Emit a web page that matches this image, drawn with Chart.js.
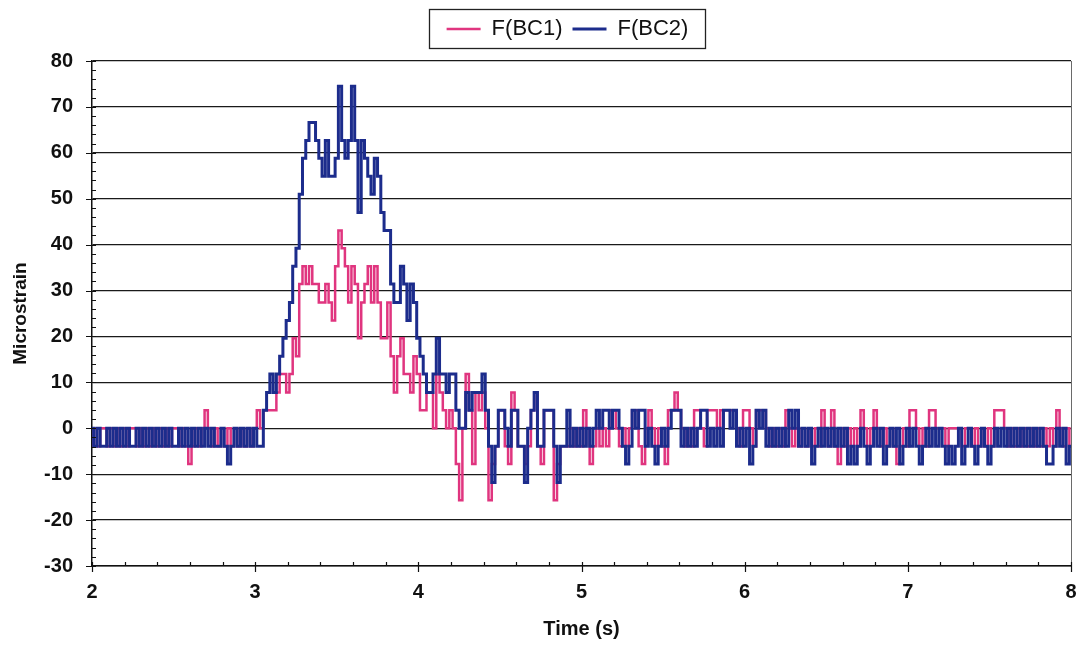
<!DOCTYPE html>
<html>
<head>
<meta charset="utf-8">
<title>F(BC1) / F(BC2)</title>
<script src="https://cdn.jsdelivr.net/npm/chart.js@4.4.1/dist/chart.umd.min.js"></script>
<style>
  html, body { margin: 0; padding: 0; background: #fff; }
  #wrap { width: 1082px; height: 645px; }
</style>
</head>
<body>
<div id="wrap"><canvas id="strainChart"></canvas></div>
<script>
// recorder clock: first sample and sample interval (s)
const startTime = 2.0;
const sampleStep = 0.02;

const seriesNames = ['F(BC1)', 'F(BC2)'];

// F(BC1) microstrain, one value per sample (10 samples = 0.2 s per row)
const bc1 = [
  -3.9, 0, -3.9, 0, 0, -3.9, 0, -3.9, 0, -3.9,
  0, -3.9, 0, 0, -3.9, 0, -3.9, 0, -3.9, 0,
  -3.9, 0, -3.9, 0, -3.9, 0, 0, -3.9, 0, -3.9,
  -7.8, -3.9, 0, -3.9, 0, 3.9, 0, -3.9, 0, -3.9,
  0, -3.9, 0, -3.9, 0, -3.9, 0, -3.9, 0, -3.9,
  0, 3.9, 0, 3.9, 3.9, 3.9, 3.9, 7.8, 11.8, 11.8,
  7.8, 11.8, 19.6, 15.7, 31.4, 35.3, 31.4, 35.3, 31.4, 31.4,
  27.4, 27.4, 31.4, 27.4, 23.5, 35.3, 43.1, 39.2, 35.3, 27.4,
  35.3, 31.4, 19.6, 27.4, 31.4, 35.3, 27.4, 35.3, 27.4, 19.6,
  19.6, 27.4, 15.7, 7.8, 15.7, 19.6, 11.8, 11.8, 7.8, 15.7,
  11.8, 3.9, 3.9, 7.8, 7.8, 0, 11.8, 7.8, 3.9, 0,
  3.9, 0, -7.8, -15.7, 0, 11.8, 3.9, -7.8, 7.8, 3.9,
  7.8, 0, -15.7, -7.8, -3.9, 3.9, 3.9, -3.9, -7.8, 7.8,
  3.9, -3.9, -3.9, -7.8, -3.9, 3.9, 7.8, -3.9, -7.8, 3.9,
  3.9, 3.9, -15.7, -7.8, -3.9, -3.9, -3.9, 0, -3.9, 0,
  -3.9, 3.9, 0, -7.8, -3.9, 0, -3.9, 0, -3.9, 3.9,
  3.9, 0, -3.9, 0, -3.9, 0, 3.9, 3.9, -3.9, -7.8,
  0, 3.9, 0, -3.9, 0, -3.9, -7.8, 3.9, 3.9, 7.8,
  3.9, 0, -3.9, 0, -3.9, 3.9, 3.9, 0, -3.9, 3.9,
  3.9, 3.9, 0, 3.9, 3.9, 3.9, 3.9, 3.9, 0, -3.9,
  3.9, 3.9, 0, -3.9, 3.9, 3.9, 3.9, 0, -3.9, 0,
  -3.9, 0, -3.9, 3.9, 0, -3.9, 0, -3.9, 0, -3.9,
  0, -3.9, 0, -3.9, 3.9, 0, -3.9, 3.9, -3.9, -7.8,
  0, -3.9, 0, -3.9, 0, -3.9, 3.9, 0, -3.9, 0,
  3.9, 0, -3.9, 0, -3.9, 0, -3.9, -7.8, -3.9, 0,
  -3.9, 3.9, 3.9, 0, -3.9, 0, -3.9, 3.9, 3.9, 0,
  0, 0, -3.9, 0, 0, 0, 0, -3.9, 0, 0,
  -3.9, 0, -3.9, 0, -3.9, 0, -3.9, 3.9, 3.9, 3.9,
  0, -3.9, 0, -3.9, 0, -3.9, 0, -3.9, 0, -3.9,
  0, -3.9, 0, -3.9, 0, -3.9, 3.9, 0, -3.9, 0,
  -3.9
];

// F(BC2) microstrain, same sampling
const bc2 = [
  0, -3.9, 0, -3.9, -3.9, 0, -3.9, 0, -3.9, 0,
  -3.9, 0, -3.9, -3.9, 0, -3.9, 0, -3.9, 0, -3.9,
  0, -3.9, 0, -3.9, 0, -3.9, -3.9, 0, -3.9, 0,
  -3.9, 0, -3.9, 0, -3.9, 0, -3.9, 0, -3.9, -3.9,
  0, -3.9, -7.8, -3.9, 0, -3.9, 0, -3.9, 0, -3.9,
  0, -3.9, -3.9, 3.9, 7.8, 11.8, 7.8, 11.8, 15.7, 19.6,
  23.5, 27.4, 35.3, 39.2, 51.0, 58.8, 62.7, 66.6, 66.6, 62.7,
  58.8, 54.9, 62.7, 54.9, 54.9, 58.8, 74.5, 62.7, 58.8, 62.7,
  74.5, 62.7, 47.0, 62.7, 58.8, 54.9, 51.0, 58.8, 54.9, 47.0,
  43.1, 43.1, 31.4, 27.4, 27.4, 35.3, 31.4, 23.5, 31.4, 27.4,
  19.6, 15.7, 11.8, 7.8, 7.8, 11.8, 19.6, 11.8, 11.8, 7.8,
  11.8, 11.8, 3.9, 0, 0, 7.8, 3.9, 7.8, 7.8, 7.8,
  11.8, 3.9, -3.9, -11.8, -3.9, 3.9, 3.9, 0, -3.9, 3.9,
  3.9, -3.9, -3.9, -11.8, 0, 3.9, 7.8, -3.9, -3.9, 3.9,
  3.9, 3.9, -3.9, -11.8, -3.9, -3.9, 3.9, -3.9, 0, -3.9,
  0, -3.9, 0, -3.9, 0, 3.9, 0, 3.9, 3.9, 0,
  3.9, 3.9, 0, -3.9, -7.8, -3.9, 3.9, 0, 3.9, 3.9,
  -3.9, 0, -3.9, -7.8, -3.9, 0, -3.9, 0, 3.9, 3.9,
  3.9, -3.9, 0, -3.9, 0, -3.9, 0, 3.9, 3.9, -3.9,
  0, -3.9, 0, -3.9, 3.9, 3.9, 0, 3.9, -3.9, 0,
  -3.9, 0, -7.8, -3.9, 3.9, 0, 3.9, -3.9, 0, -3.9,
  0, -3.9, 0, -3.9, 3.9, 0, 3.9, -3.9, 0, -3.9,
  0, -7.8, -3.9, 0, -3.9, 0, -3.9, 0, -3.9, 0,
  -3.9, 0, -7.8, -3.9, -7.8, -3.9, 0, -3.9, -7.8, -3.9,
  0, -3.9, 0, -7.8, -3.9, 0, -3.9, 0, -7.8, -3.9,
  0, -3.9, 0, -3.9, -7.8, -3.9, 0, -3.9, 0, -3.9,
  0, -3.9, -7.8, -3.9, -7.8, -3.9, 0, -7.8, -3.9, 0,
  -3.9, -7.8, -3.9, 0, -3.9, -7.8, -3.9, 0, -3.9, 0,
  -3.9, 0, -3.9, 0, -3.9, 0, -3.9, 0, -3.9, 0,
  -3.9, 0, -3.9, -7.8, -7.8, -3.9, 0, -3.9, 0, -7.8,
  -3.9
];

// axis ranges and tick spacing
const xRange = [2, 8];
const yRange = [-30, 80];
const xMajor = 1, xMinor = 0.2;
const yMajor = 10, yMinor = 2;

const pink = '#e0357f';
const navy = '#1c2c8c';
const fontFamily = "'Liberation Sans', Arial, sans-serif";
const legendShift = 32;

function toPoints(values) {
  return values.map((v, i) => ({ x: startTime + i * sampleStep, y: v }));
}

// tick marks, right-hand frame line and the box round the legend
const framePlugin = {
  id: 'framePlugin',
  beforeLayout(chart) {
    const lg = chart.legend;
    if (lg && !lg._patched) {
      const fit = lg.fit.bind(lg);
      lg.fit = function () { fit(); this.height += 11; };
      const draw = lg.draw.bind(lg);
      lg.draw = function (area) {
        const c = this.ctx;
        c.save();
        c.translate(legendShift, 0);
        draw(area);
        c.restore();
      };
      lg._patched = true;
    }
  },
  afterDraw(chart) {
    const { ctx, chartArea: a, scales: { x, y } } = chart;
    ctx.save();
    ctx.strokeStyle = '#6a6a6a';
    ctx.lineWidth = 1;
    ctx.beginPath();
    ctx.moveTo(a.right + 0.5, a.top);
    ctx.lineTo(a.right + 0.5, a.bottom);
    ctx.stroke();

    ctx.strokeStyle = '#111';
    ctx.lineWidth = 1.2;
    ctx.beginPath();
    const ny = Math.round((yRange[1] - yRange[0]) / yMinor);
    for (let k = 0; k <= ny; k++) {
      const py = Math.round(y.getPixelForValue(yRange[0] + k * yMinor)) + 0.5;
      const major = k % (yMajor / yMinor) === 0;
      ctx.moveTo(a.left - (major ? 6 : 0), py);
      ctx.lineTo(a.left + 4, py);
    }
    const nx = Math.round((xRange[1] - xRange[0]) / xMinor);
    for (let k = 0; k <= nx; k++) {
      const px = Math.round(x.getPixelForValue(xRange[0] + k * xMinor)) + 0.5;
      const major = k % Math.round(xMajor / xMinor) === 0;
      ctx.moveTo(px, a.bottom - 4);
      ctx.lineTo(px, a.bottom + (major ? 6 : 0));
    }
    ctx.stroke();

    const boxes = chart.legend.legendHitBoxes;
    if (boxes && boxes.length) {
      const l = Math.min(...boxes.map(b => b.left)) - 18 + legendShift;
      const r = Math.max(...boxes.map(b => b.left + b.width)) + 16 + legendShift;
      const t = Math.min(...boxes.map(b => b.top)) - 9;
      const btm = Math.max(...boxes.map(b => b.top + b.height)) + 8;
      ctx.strokeStyle = '#222';
      ctx.lineWidth = 1.3;
      ctx.strokeRect(Math.round(l) + 0.5, Math.round(t) + 0.5, Math.round(r - l), Math.round(btm - t));
    }
    ctx.restore();
  }
};

document.addEventListener('DOMContentLoaded', function () {
  const ctx = document.getElementById('strainChart').getContext('2d');
  new Chart(ctx, {
    type: 'line',
    data: {
      datasets: [{
        label: seriesNames[0],
        data: toPoints(bc1),
        borderColor: pink,
        backgroundColor: pink,
        borderWidth: 2.5,
        pointRadius: 0,
        stepped: 'middle',
        order: 1
      }, {
        label: seriesNames[1],
        data: toPoints(bc2),
        borderColor: navy,
        backgroundColor: navy,
        borderWidth: 3,
        pointRadius: 0,
        stepped: 'middle',
        order: 0
      }]
    },
    options: {
      responsive: true,
      maintainAspectRatio: false,
      animation: false,
      devicePixelRatio: 1,
      layout: { padding: { top: 8, right: 11, left: 0, bottom: 0 } },
      plugins: {
        tooltip: { enabled: false },
        legend: {
          position: 'top',
          labels: {
            color: '#111',
            font: { family: fontFamily, size: 22 },
            usePointStyle: true,
            pointStyle: 'line',
            pointStyleWidth: 34,
            padding: 10,
            sort: (a, b) => a.datasetIndex - b.datasetIndex
          }
        }
      },
      scales: {
        x: {
          type: 'linear',
          min: xRange[0],
          max: xRange[1],
          afterFit: s => { s.height = 79; s.paddingRight = 0; s.paddingLeft = 0; },
          ticks: {
            stepSize: xMajor,
            color: '#111',
            padding: 14,
            maxRotation: 0,
            font: { family: fontFamily, size: 20, weight: 'bold' }
          },
          grid: { drawOnChartArea: false, drawTicks: false },
          border: { display: true, color: '#111', width: 1.5 },
          title: {
            display: true,
            text: 'Time (s)',
            color: '#111',
            padding: { top: 0, bottom: 4 },
            font: { family: fontFamily, size: 20, weight: 'bold' }
          }
        },
        y: {
          min: yRange[0],
          max: yRange[1],
          afterFit: s => { s.width = 92; },
          ticks: {
            stepSize: yMajor,
            color: '#111',
            padding: 19,
            font: { family: fontFamily, size: 20, weight: 'bold' }
          },
          grid: { color: '#1a1a1a', lineWidth: 1.3, drawTicks: false },
          border: { display: true, color: '#111', width: 1.5 },
          title: {
            display: true,
            text: 'Microstrain',
            color: '#111',
            padding: { top: 9, bottom: 0 },
            font: { family: fontFamily, size: 19, weight: 'bold' }
          }
        }
      }
    },
    plugins: [framePlugin]
  });
});
</script>
</body>
</html>
